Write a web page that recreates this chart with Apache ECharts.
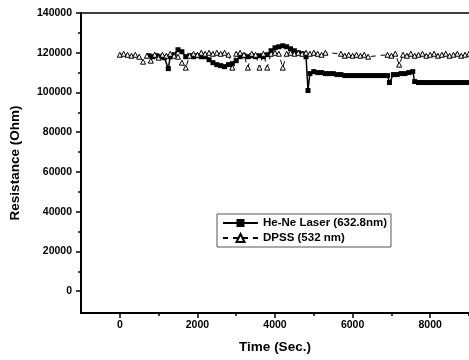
<!DOCTYPE html>
<html>
<head>
<meta charset="utf-8">
<script src="https://cdn.jsdelivr.net/npm/echarts@6/dist/echarts.min.js"></script>
<style>
  html, body { margin: 0; padding: 0; background: #fff; }
  #main { width: 469px; height: 360px; }
</style>
</head>
<body>
<div id="main"></div>
<script>
// tick values
const xTicks = [0, 2000, 4000, 6000, 8000];
const xMinorTicks = [1000, 3000, 5000, 7000, 9000];
const yTicks = [0, 20000, 40000, 60000, 80000, 100000, 120000, 140000];
const yMinorTicks = [10000, 30000, 50000, 70000, 90000, 110000, 130000];

// He-Ne Laser (632.8nm)
const hnTime = [750, 850, 950, 1050, 1150, 1250, 1300, 1400, 1500, 1600, 1700, 1800, 1900, 2000,
  2100, 2200, 2300, 2400, 2500, 2600, 2700, 2800, 2900, 3000, 3100, 3200, 3300, 3400, 3500,
  3600, 3700, 3800, 3900, 4000, 4100, 4200, 4300, 4400, 4500, 4600, 4700, 4800, 4850, 4900,
  5000, 5100, 5200, 5300, 5400, 5500, 5600, 5700, 5800, 5900, 6000, 6100, 6200, 6300, 6400,
  6500, 6600, 6700, 6800, 6900, 6950, 7050, 7150, 7250, 7350, 7450, 7550, 7600, 7700, 7800,
  7900, 8000, 8100, 8200, 8300, 8400, 8500, 8600, 8700, 8800, 8900, 9000];
const hnRes = [118500, 118000, 118500, 118000, 117500, 112000, 118000, 119000, 121500, 120500,
  118000, 118500, 118000, 118500, 118000, 118000, 116500, 115000, 114000, 113500, 113000,
  114000, 114500, 116000, 118000, 118500, 118000, 118500, 118000, 118500, 118000, 119000,
  121000, 122500, 123000, 123500, 123000, 122000, 121000, 120000, 119500, 118000, 101000,
  109500, 110500, 110000, 110000, 109500, 109500, 109500, 109000, 109000, 108500, 108500,
  108500, 108500, 108500, 108500, 108500, 108500, 108500, 108500, 108500, 108500, 105000,
  109000, 109000, 109500, 109500, 110000, 110500, 105500, 105000, 105000, 105000, 105000,
  105000, 105000, 105000, 105000, 105000, 105000, 105000, 105000, 105000, 105000];

// DPSS (532 nm)
const dpTime = [0, 100, 200, 300, 400, 500, 600, 700, 800, 900, 1000, 1100, 1200, 1300, 1400,
  1500, 1600, 1700, 1800, 1900, 2000, 2100, 2200, 2300, 2400, 2500, 2600, 2700, 2800, 2900,
  3000, 3100, 3200, 3300, 3400, 3500, 3600, 3700, 3800, 3900, 4000, 4100, 4200, 4300, 4400,
  4500, 4600, 4700, 4800, 4900, 5000, 5100, 5200, 5300, 5700, 5800, 5900, 6000, 6100, 6200,
  6300, 6400, 6900, 7000, 7100, 7200, 7300, 7400, 7500, 7600, 7700, 7800, 7900, 8000, 8100,
  8200, 8300, 8400, 8500, 8600, 8700, 8800, 8900, 9000];
const dpRes = [119000, 119500, 119000, 118500, 119000, 118000, 115500, 118500, 116000, 119000,
  117500, 119000, 118500, 119500, 118500, 118000, 115000, 112500, 118500, 119500, 119000,
  120000, 119500, 120000, 119500, 120000, 119500, 120000, 119000, 112500, 119500, 120000,
  119000, 112500, 119500, 119000, 112500, 119500, 112500, 119500, 120000, 119500, 112500,
  119500, 120000, 119500, 120000, 119500, 120000, 119500, 120000, 119500, 119000, 120000,
  119500, 118500, 119000, 118500, 119000, 118500, 119000, 118000, 119000, 118500, 119500,
  114000, 119000, 118500, 119500, 118500, 119000, 119500, 118500, 119000, 119500, 118500,
  119000, 119500, 118500, 119000, 119500, 118500, 119000, 119500];

const xMin = -1000, xMax = 9000;
const yMin = -11000, yMax = 140000;
const font = "Liberation Sans";

const chart = echarts.init(document.getElementById("main"));

const labelStyle = {
  color: "#000", fontWeight: "bold", fontSize: 10.5, fontFamily: font,
  formatter: (v) => String(v),
};
const nameStyle = { color: "#000", fontWeight: "bold", fontSize: 13.5, fontFamily: font };

const option = {
  animation: false,
  backgroundColor: "#fff",
  grid: { left: 80, top: 13, right: 0, bottom: 47 },
  legend: {
    orient: "vertical",
    left: 217,
    top: 214,
    padding: [3, 4, 3, 5],
    itemGap: 3,
    itemWidth: 35,
    itemHeight: 10,
    borderColor: "#555",
    borderWidth: 1,
    textStyle: { color: "#000", fontWeight: "bold", fontSize: 11.5, fontFamily: font },
    data: ["He-Ne Laser (632.8nm)", "DPSS (532 nm)"],
  },
  xAxis: [
    {
      type: "value",
      position: "bottom",
      min: xMin,
      max: xMax,
      name: "Time (Sec.)",
      nameLocation: "middle",
      nameGap: 27,
      nameTextStyle: nameStyle,
      splitLine: { show: false },
      axisLine: { onZero: false, lineStyle: { color: "#000", width: 2 } },
      axisTick: { customValues: xTicks, length: 5, lineStyle: { color: "#000", width: 1.5 } },
      axisLabel: { customValues: xTicks, margin: 7, ...labelStyle },
    },
    {
      type: "value",
      position: "bottom",
      min: xMin,
      max: xMax,
      splitLine: { show: false },
      axisLine: { show: false, onZero: false },
      axisTick: { customValues: xMinorTicks, length: 3, lineStyle: { color: "#000", width: 1.5 } },
      axisLabel: { show: false },
    },
    {
      type: "value",
      position: "top",
      min: xMin,
      max: xMax,
      splitLine: { show: false },
      axisLine: { onZero: false, lineStyle: { color: "#000", width: 1.5 } },
      axisTick: { show: false },
      axisLabel: { show: false },
    },
  ],
  yAxis: [
    {
      type: "value",
      position: "left",
      min: yMin,
      max: yMax,
      name: "Resistance (Ohm)",
      nameLocation: "middle",
      nameRotate: 90,
      nameGap: 59,
      nameTextStyle: nameStyle,
      splitLine: { show: false },
      axisLine: { onZero: false, lineStyle: { color: "#000", width: 2 } },
      axisTick: { customValues: yTicks, length: 5, lineStyle: { color: "#000", width: 1.5 } },
      axisLabel: { customValues: yTicks, margin: 9, ...labelStyle },
    },
    {
      type: "value",
      position: "left",
      min: yMin,
      max: yMax,
      splitLine: { show: false },
      axisLine: { show: false, onZero: false },
      axisTick: { customValues: yMinorTicks, length: 3, lineStyle: { color: "#000", width: 1.5 } },
      axisLabel: { show: false },
    },
  ],
  series: [
    {
      name: "He-Ne Laser (632.8nm)",
      type: "line",
      data: hnTime.map((t, i) => [t, hnRes[i]]),
      symbol: "rect",
      symbolSize: 5,
      showAllSymbol: true,
      itemStyle: { color: "#000" },
      lineStyle: { color: "#000", width: 1.5 },
    },
    {
      name: "DPSS (532 nm)",
      type: "line",
      data: dpTime.map((t, i) => [t, dpRes[i]]),
      symbol: "triangle",
      symbolSize: 5,
      showAllSymbol: true,
      itemStyle: { color: "#fff", borderColor: "#000", borderWidth: 1 },
      lineStyle: { color: "#000", width: 1, type: [5, 5] },
    },
  ],
};

chart.setOption(option);
</script>
</body>
</html>
